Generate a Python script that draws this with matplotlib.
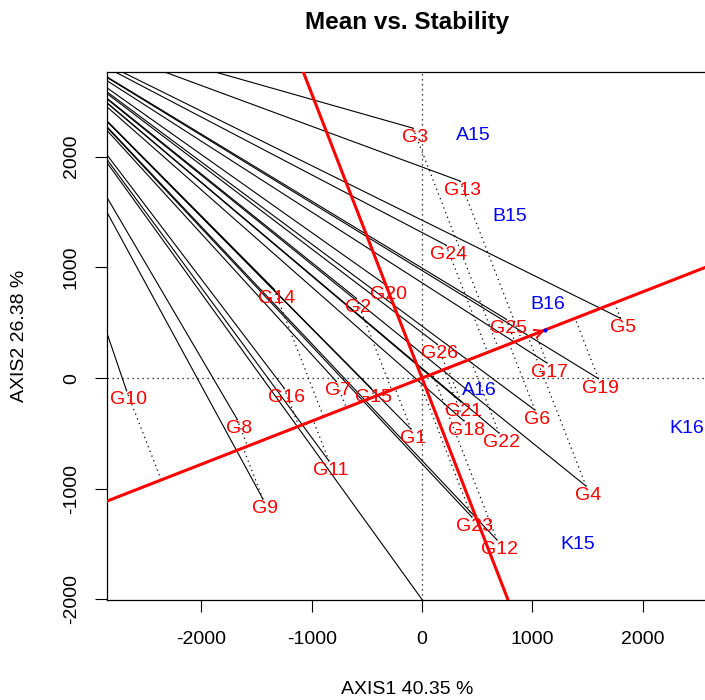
"""GGE biplot: Mean vs. Stability view."""

import numpy as np
import matplotlib

matplotlib.use("Agg")
import matplotlib.pyplot as plt

plt.rcParams["font.family"] = ["Liberation Sans", "DejaVu Sans"]
plt.rcParams["axes.unicode_minus"] = False

# ==========================================
# DATA (biplot scores)
# ==========================================
genotypes = [
    "G1", "G2", "G3", "G4", "G5", "G6", "G7", "G8", "G9", "G10", "G11", "G12", "G13",
    "G14", "G15", "G16", "G17", "G18", "G19", "G20", "G21", "G22", "G23", "G24", "G25", "G26",
]
gen_x = [
    -100, -598, -82, 1487, 1800, 1024, -780, -1677, -1442, -2680, -843, 680, 345,
    -1342, -462, -1251, 1133, 381, 1600, -326, 354, 698, 453, 218, 762, 136,
]
gen_y = [
    -461, 723, 2258, -976, 540, -289, -27, -370, -1093, -110, -750, -1463, 1780,
    804, -90, -90, 136, -388, -5, 840, -217, -497, -1256, 1201, 533, 307,
]

environments = ["A15", "A16", "B15", "B16", "K15", "K16"]
env_x = [462, 517, 798, 1142, 1414, 2403]
env_y = [2213, -90, 1481, 687, -1481, -434]

# average environment coordinate (ATC arrow tip)
mean_env = [1115, 434]

# common far point the black segments start from, plus one extra segment end
fan_origin = [-3853, 3324]
extra_end = [0, -2000]

axis1_pct = 40.35
axis2_pct = 26.38

XLIM = (-2856, 2584)
YLIM = (-2005, 2765)

fig = plt.figure(figsize=(7.05, 7.00), dpi=100)
ax = fig.add_axes([107 / 705, 100 / 700, 600 / 705, 528 / 700])
ax.set_xlim(*XLIM)
ax.set_ylim(*YLIM)

dotted = (0, (1, 3))

# black segments from the far point to every genotype
for gx, gy in zip(gen_x + [extra_end[0]], gen_y + [extra_end[1]]):
    ax.plot([fan_origin[0], gx], [fan_origin[1], gy], color="black", lw=0.8, zorder=2)

# projection of each genotype onto the ATC abscissa
u = np.array(mean_env, dtype=float)
u = u / np.linalg.norm(u)
for gx, gy in zip(gen_x, gen_y):
    d = gx * u[0] + gy * u[1]
    ax.plot([gx, d * u[0]], [gy, d * u[1]], color="black", lw=0.9,
            linestyle=dotted, zorder=2)

# reference axes through the origin
ax.axhline(0, color="black", lw=0.9, linestyle=dotted, zorder=1)
ax.axvline(0, color="black", lw=0.9, linestyle=dotted, zorder=1)

# ATC abscissa and ordinate
slope = mean_env[1] / mean_env[0]
xs = np.array(XLIM)
ax.plot(xs, slope * xs, color="red", lw=2.2, zorder=3)
ax.plot(xs, -xs / slope, color="red", lw=2.2, zorder=3)
ax.annotate("", xy=(mean_env[0], mean_env[1]), xytext=(0, 0),
            arrowprops=dict(arrowstyle="->,head_length=0.6,head_width=0.3",
                            color="red", lw=1.4, shrinkA=0, shrinkB=0), zorder=3)
ax.plot(mean_env[0], mean_env[1], "o", color="blue", ms=2, zorder=4)

# labels
for name, gx, gy in zip(genotypes, gen_x, gen_y):
    ax.annotate(name, (gx, gy), xytext=(1.5, -10), textcoords="offset points",
                ha="center", va="baseline", color="red", fontsize=14, zorder=5)
for name, ex, ey in zip(environments, env_x, env_y):
    ax.annotate(name, (ex, ey), xytext=(0, -5), textcoords="offset points",
                ha="center", va="baseline", color="blue", fontsize=14, zorder=5)

ax.set_xticks([-2000, -1000, 0, 1000, 2000])
ax.set_yticks([-2000, -1000, 0, 1000, 2000])
ax.tick_params(axis="both", direction="out", length=8.5, width=0.8, labelsize=14)
ax.tick_params(axis="x", pad=14)
ax.tick_params(axis="y", pad=11)
for lab in ax.get_yticklabels():
    lab.set_rotation(90)
    lab.set_va("center")
for sp in ax.spines.values():
    sp.set_linewidth(0.9)

fig.text(407 / 705, 1 - 23 / 700, "Mean vs. Stability", ha="center", va="center",
         fontsize=17.5, fontweight="bold")
fig.text(407 / 705, 1 - 690 / 700, f"AXIS1 {axis1_pct} %", ha="center", va="center",
         fontsize=14)
fig.text(20 / 705, 1 - 336 / 700, f"AXIS2 {axis2_pct} %", ha="center", va="center",
         fontsize=14, rotation=90)

fig.savefig("out.png", dpi=100)
